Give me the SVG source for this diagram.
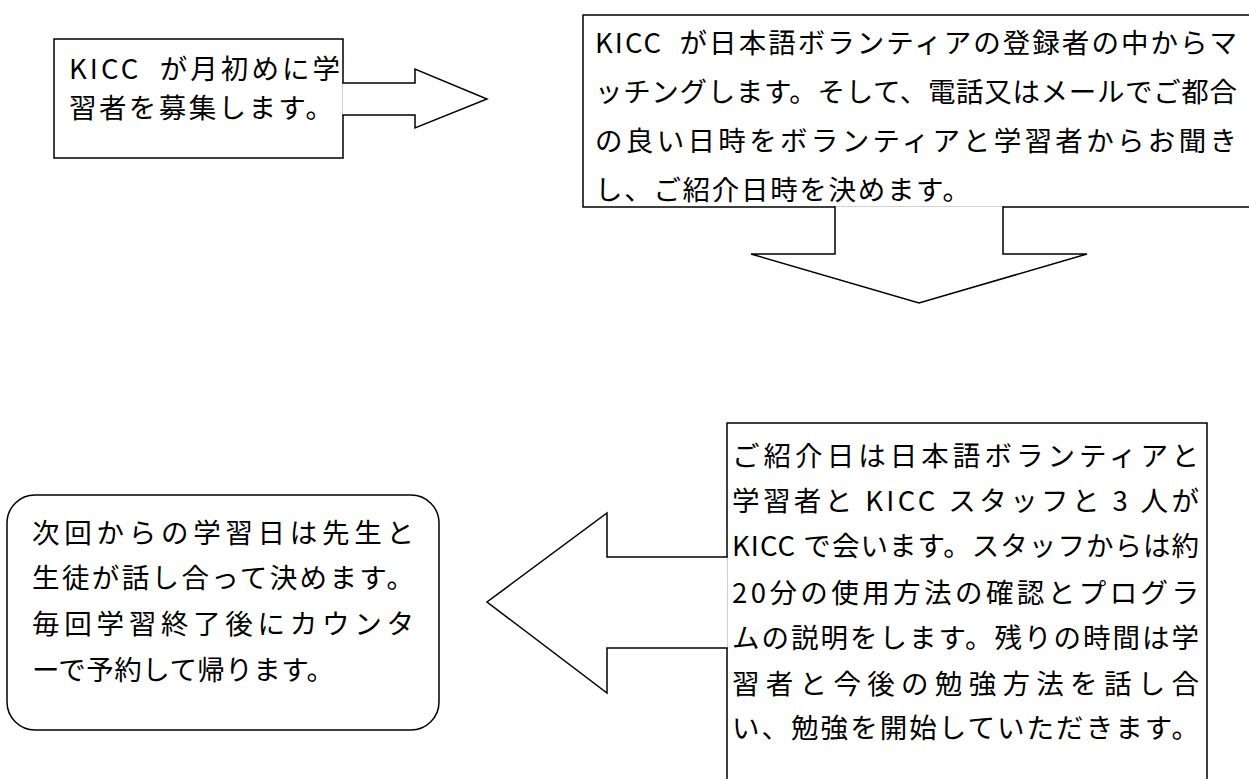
<svg xmlns="http://www.w3.org/2000/svg" width="1249" height="779" viewBox="0 0 1249 779">
<style>
.box{fill:#fff;stroke:#000;stroke-width:1.5}
.arr{fill:#fff;stroke:#000;stroke-width:1.5;stroke-linejoin:miter}
.t{font-family:"Noto Sans CJK JP","Noto Sans CJK SC",sans-serif;font-size:27.5px;fill:#000}
</style>
<rect width="1249" height="779" fill="#fff"/>
<g id="node-recruit">
<rect class="box" x="54" y="39" width="289" height="119"/>
<text class="t" x="69" y="79" textLength="271" lengthAdjust="spacing">KICC&#160; が月初めに学</text>
<text class="t" x="69" y="118" textLength="264" lengthAdjust="spacing">習者を募集します。</text>
</g>
<g id="node-matching">
<rect class="box" x="583" y="15" width="700" height="192"/>
<text class="t" x="595" y="53" textLength="642" lengthAdjust="spacing">KICC&#160; が日本語ボランティアの登録者の中からマ</text>
<text class="t" x="595" y="102" textLength="642" lengthAdjust="spacing">ッチングします。そして、電話又はメールでご都合</text>
<text class="t" x="595" y="151" textLength="642" lengthAdjust="spacing">の良い日時をボランティアと学習者からお聞き</text>
<text class="t" x="595" y="200" textLength="375" lengthAdjust="spacing">し、ご紹介日時を決めます。</text>
</g>
<g id="node-introduction">
<rect class="box" x="727" y="423" width="480" height="400"/>
<text class="t" x="732" y="466" textLength="467" lengthAdjust="spacing">ご紹介日は日本語ボランティアと</text>
<text class="t" x="732" y="511" textLength="467" lengthAdjust="spacing">学習者と KICC スタッフと 3 人が</text>
<text class="t" x="732" y="556" textLength="467" lengthAdjust="spacing">KICC で会います。スタッフからは約</text>
<text class="t" x="732" y="603" textLength="467" lengthAdjust="spacing">20分の使用方法の確認とプログラ</text>
<text class="t" x="732" y="648" textLength="467" lengthAdjust="spacing">ムの説明をします。残りの時間は学</text>
<text class="t" x="732" y="694" textLength="467" lengthAdjust="spacing">習者と今後の勉強方法を話し合</text>
<text class="t" x="732" y="738" textLength="467" lengthAdjust="spacing">い、勉強を開始していただきます。</text>
</g>
<g id="node-next">
<rect class="box" x="7" y="495" width="432" height="235" rx="28" ry="28"/>
<text class="t" x="32" y="543" textLength="382" lengthAdjust="spacing">次回からの学習日は先生と</text>
<text class="t" x="32" y="588" textLength="382" lengthAdjust="spacing">生徒が話し合って決めます。</text>
<text class="t" x="32" y="634" textLength="382" lengthAdjust="spacing">毎回学習終了後にカウンタ</text>
<text class="t" x="32" y="680" textLength="302" lengthAdjust="spacing">ーで予約して帰ります。</text>
</g>
<g id="connectors">
<path class="arr" d="M342.25,83 H415 V69 L487,99 L415,128 V115 H342.25"/>
<path class="arr" d="M835,206.25 V254 H751 L919,303 L1087,254 H1003 V206.25"/>
<path class="arr" d="M727.75,557 H607 V513 L487,602 L607,693 V648 H727.75"/>
</g>
</svg>
